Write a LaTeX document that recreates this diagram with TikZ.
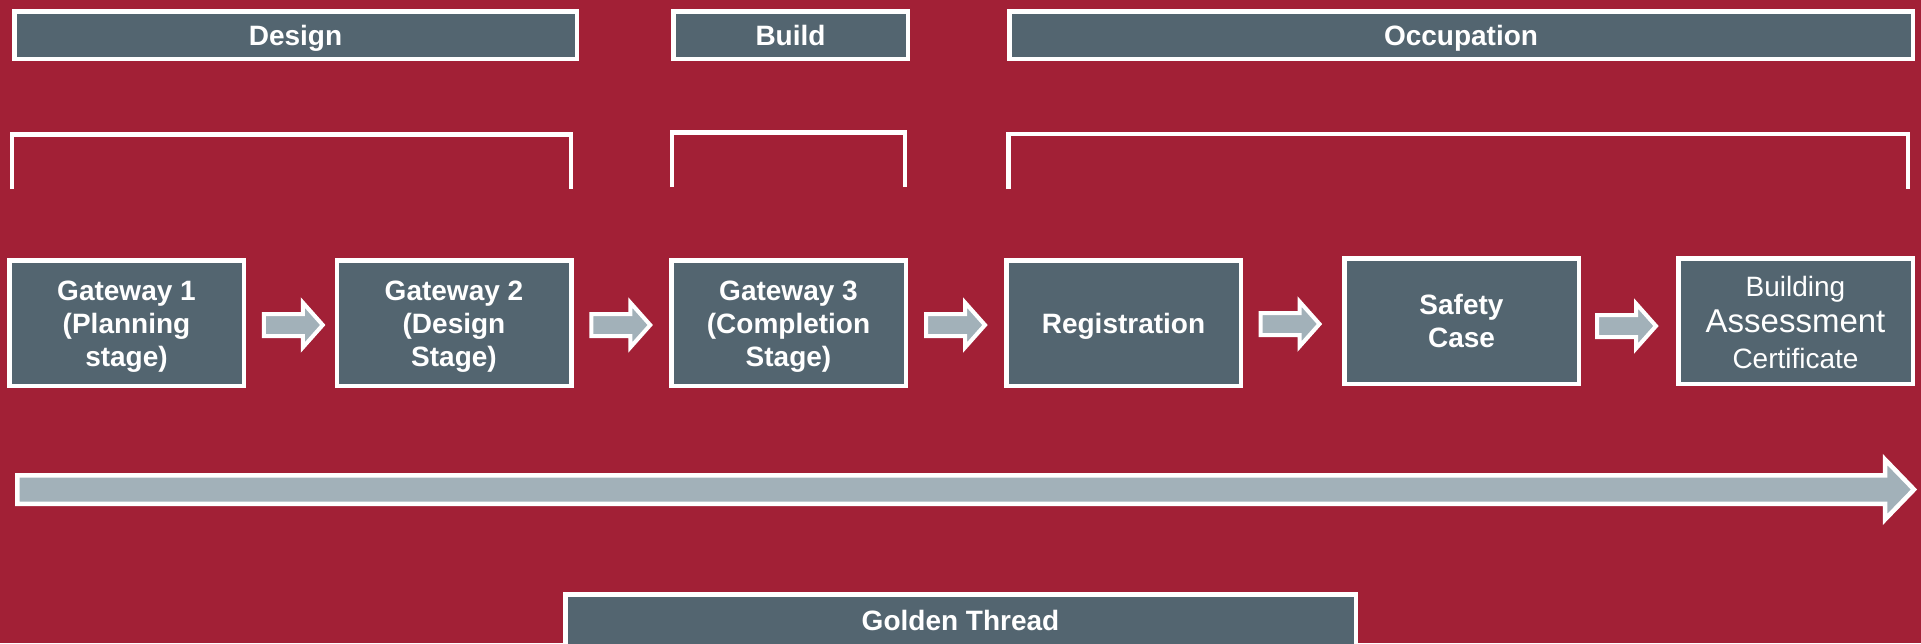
\documentclass[tikz,border=0pt]{standalone}
\usepackage{fontspec}
\setmainfont{Liberation Sans}
\usetikzlibrary{calc}
\definecolor{bgred}{RGB}{162,32,54}
\definecolor{slate}{RGB}{83,101,112}
\definecolor{steel}{RGB}{162,177,185}

% fixed top and bottom struts so that the capitals of a text block sit centred
\newcommand{\topstrut}{\rule{0pt}{14pt}}
\newcommand{\botstrut}{\rule[-4pt]{0pt}{4pt}}

% block arrow between two stage boxes: #1 source, #2 target, #3 x offset, #4 y offset
\newcommand{\flowarrow}[4]{%
  \begin{scope}[shift={($(#1.east)!0.5!(#2.west)$)},xshift=#3*0.5pt,yshift=-#4*0.5pt]
    \draw[flow] (-30,-11) -- (9,-11) -- (9,-22.5) -- (29,0) -- (9,22.5)
      -- (9,11) -- (-30,11) -- cycle;
  \end{scope}}

\begin{document}
\begin{tikzpicture}[x=0.5pt,y=-0.5pt,
  stage/.style={draw=white,line width=2.25pt,fill=slate,text=white,
    inner sep=0pt,align=center,font=\fontsize{14}{16.5}\selectfont\bfseries},
  header/.style={stage,minimum height=23.75pt},
  gate/.style={stage,minimum width=117.25pt,minimum height=62.75pt},
  bracket/.style={draw=white,line width=2.2pt,line join=miter},
  flow/.style={draw=white,line width=2pt,fill=steel,line join=miter},
  thread/.style={draw=white,line width=2.25pt,fill=steel,line join=miter}]

\useasboundingbox[fill=bgred] (0,0) rectangle (1921,643);
\clip (0,0) rectangle (1921,643);

% phase headers
\node[header,minimum width=281.25pt] (design) at (295.5,35) {\topstrut Design\botstrut};
\node[header,minimum width=117.25pt] (build) at (790.5,35) {\topstrut Build\botstrut};
\node[header,minimum width=451.75pt] (occupation) at (1461,35) {\topstrut Occupation\botstrut};

% brackets grouping the stages under each phase
\draw[bracket] (12,189) |- (571,134.5) -- (571,189);
\draw[bracket] (672,187) |- (905,132.5) -- (905,187);
\draw[bracket] (1008.5,189) |- (1908,134) -- (1908,189);

% stages
\node[gate] (g1) at (126.5,323) {\topstrut Gateway 1\\(Planning\\stage)\botstrut};
\node[gate] (g2) at (454,323) {\topstrut Gateway 2\\(Design\\Stage)\botstrut};
\node[gate] (g3) at (788.5,323) {\topstrut Gateway 3\\(Completion\\Stage)\botstrut};
\node[gate] (reg) at (1123.5,323) {\topstrut Registration\botstrut};
\node[gate] (safety) at (1461.5,321) {\topstrut Safety\\Case\botstrut};
\node[gate,font=\fontsize{14}{18}\selectfont] (bac) at (1795.5,321)
  {\rule{0pt}{15.8pt}Building\\{\fontsize{16.5}{18}\selectfont Assessment}\\Certificate\botstrut};

% arrows between stages
\flowarrow{g1}{g2}{3.5}{2}
\flowarrow{g2}{g3}{0}{2}
\flowarrow{g3}{reg}{0}{2}
\flowarrow{reg}{safety}{-2}{2}
\flowarrow{safety}{bac}{-1.5}{5}

% long thread arrow
\draw[thread] (17.25,475.25) -- (1885,475.25) -- (1885,459.5) -- (1914,489.5)
  -- (1885,519.5) -- (1885,503.75) -- (17.25,503.75) -- cycle;

\node[header,minimum width=395.25pt,minimum height=25.75pt] (golden)
  at (960.5,620) {\topstrut Golden Thread\botstrut};
\end{tikzpicture}
\end{document}
